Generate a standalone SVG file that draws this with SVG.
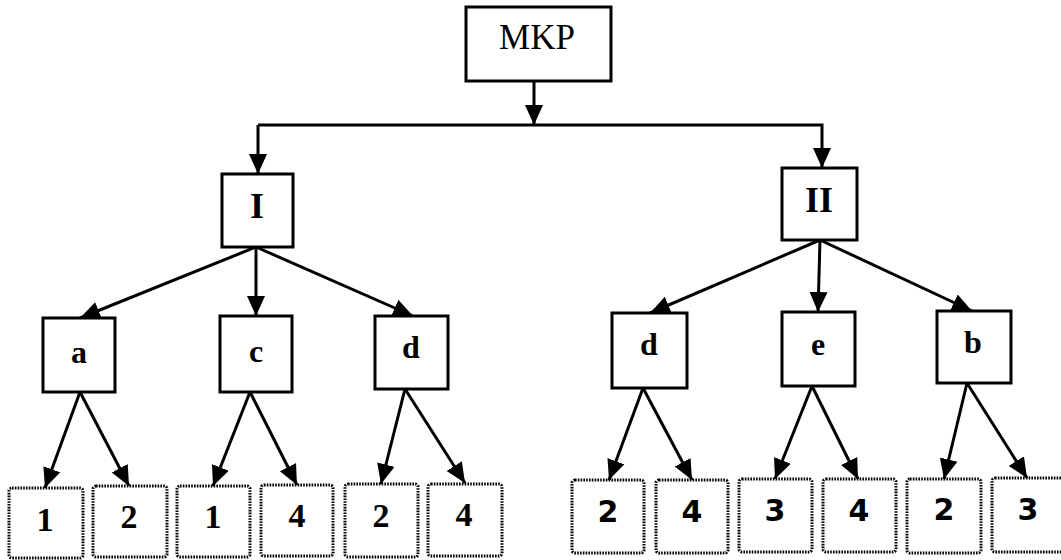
<svg xmlns="http://www.w3.org/2000/svg" width="1061" height="560" viewBox="0 0 1061 560">
<style>
.box{fill:#fff;stroke:#000;stroke-width:3}
.leaf{fill:#fff;stroke:#000;stroke-width:3;stroke-dasharray:1.6 1.2}
.ln{fill:none;stroke:#000;stroke-width:3}
.top{font-family:"Liberation Serif",serif;font-size:35px;text-anchor:middle}
.l1{font-family:"Liberation Serif",serif;font-size:36px;font-weight:bold;text-anchor:middle}
.l2{font-family:"Liberation Serif",serif;font-size:32px;font-weight:bold;text-anchor:middle}
.ls{font-family:"Liberation Serif",serif;font-size:34px;font-weight:bold;text-anchor:middle}
.rs{font-family:"DejaVu Sans",sans-serif;font-size:30px;font-weight:bold;text-anchor:middle}
</style>
<defs>
<marker id="ah" markerUnits="userSpaceOnUse" markerWidth="22" markerHeight="22" refX="20" refY="10" orient="auto">
<path d="M0,1 L20,10 L0,19 z" fill="#000"/>
</marker>
</defs>
<rect width="1061" height="560" fill="#fff"/>
<g id="connectors" class="ln">
<line x1="534" y1="81" x2="534" y2="125" marker-end="url(#ah)"/>
<polyline points="258,125 822,125 822,168" marker-end="url(#ah)"/>
<line x1="258" y1="125" x2="258" y2="174" marker-end="url(#ah)"/>
<line x1="256" y1="247" x2="80" y2="318" marker-end="url(#ah)"/>
<line x1="256" y1="247" x2="256" y2="316" marker-end="url(#ah)"/>
<line x1="256" y1="247" x2="413" y2="316" marker-end="url(#ah)"/>
<line x1="820" y1="240" x2="650" y2="313" marker-end="url(#ah)"/>
<line x1="820" y1="240" x2="818" y2="312" marker-end="url(#ah)"/>
<line x1="820" y1="240" x2="972" y2="311" marker-end="url(#ah)"/>
<line x1="80" y1="392" x2="45" y2="488" marker-end="url(#ah)"/>
<line x1="80" y1="392" x2="129" y2="486" marker-end="url(#ah)"/>
<line x1="250" y1="392" x2="213" y2="486" marker-end="url(#ah)"/>
<line x1="250" y1="392" x2="297" y2="485" marker-end="url(#ah)"/>
<line x1="405" y1="389" x2="381" y2="484" marker-end="url(#ah)"/>
<line x1="405" y1="389" x2="465" y2="483" marker-end="url(#ah)"/>
<line x1="643" y1="388" x2="609" y2="480" marker-end="url(#ah)"/>
<line x1="643" y1="388" x2="692" y2="480" marker-end="url(#ah)"/>
<line x1="812" y1="386" x2="775" y2="479" marker-end="url(#ah)"/>
<line x1="812" y1="386" x2="858" y2="479" marker-end="url(#ah)"/>
<line x1="967" y1="383" x2="944" y2="479" marker-end="url(#ah)"/>
<line x1="967" y1="383" x2="1027" y2="478" marker-end="url(#ah)"/>
</g>
<g id="mkp"><rect class="box" x="466" y="7" width="145" height="74"/><text class="top" x="537" y="49">MKP</text></g>
<g id="n-I"><rect class="box" x="222" y="174" width="71" height="73"/><text class="l1" x="257" y="218">I</text></g>
<g id="n-II"><rect class="box" x="782" y="168" width="75" height="72"/><text class="l1" x="819" y="212">II</text></g>
<g id="n-a"><rect class="box" x="43" y="318" width="72" height="74"/><text class="l2" x="79" y="363">a</text></g>
<g id="n-c"><rect class="box" x="220" y="316" width="72" height="76"/><text class="l2" x="256" y="362">c</text></g>
<g id="n-d1"><rect class="box" x="375" y="316" width="73" height="73"/><text class="l2" x="411" y="358">d</text></g>
<g id="n-d2"><rect class="box" x="612" y="313" width="75" height="75"/><text class="l2" x="649" y="355">d</text></g>
<g id="n-e"><rect class="box" x="782" y="312" width="73" height="74"/><text class="l2" x="818" y="355">e</text></g>
<g id="n-b"><rect class="box" x="937" y="311" width="74" height="72"/><text class="l2" x="973" y="353">b</text></g>
<g id="leaf-1a"><rect class="leaf" x="9" y="488" width="74" height="70" rx="3"/><text class="ls" x="45" y="531">1</text></g>
<g id="leaf-2a"><rect class="leaf" x="93" y="486" width="74" height="71" rx="3"/><text class="ls" x="129" y="528">2</text></g>
<g id="leaf-1c"><rect class="leaf" x="177" y="486" width="73" height="71" rx="3"/><text class="ls" x="213" y="528">1</text></g>
<g id="leaf-4c"><rect class="leaf" x="261" y="485" width="72" height="71" rx="3"/><text class="ls" x="297" y="527">4</text></g>
<g id="leaf-2d"><rect class="leaf" x="345" y="484" width="73" height="73" rx="3"/><text class="ls" x="381" y="527">2</text></g>
<g id="leaf-4d"><rect class="leaf" x="428" y="484" width="74" height="72" rx="3"/><text class="ls" x="464" y="526">4</text></g>
<g id="leaf-2d2"><rect class="leaf" x="572" y="480" width="72" height="73" rx="3"/><text class="rs" x="608" y="522">2</text></g>
<g id="leaf-4d2"><rect class="leaf" x="656" y="480" width="72" height="73" rx="3"/><text class="rs" x="692" y="522">4</text></g>
<g id="leaf-3e"><rect class="leaf" x="739" y="479" width="73" height="73" rx="3"/><text class="rs" x="775" y="521">3</text></g>
<g id="leaf-4e"><rect class="leaf" x="823" y="479" width="73" height="73" rx="3"/><text class="rs" x="859" y="521">4</text></g>
<g id="leaf-2b"><rect class="leaf" x="907" y="479" width="74" height="74" rx="3"/><text class="rs" x="944" y="520">2</text></g>
<g id="leaf-3b"><rect class="leaf" x="992" y="478" width="72" height="74" rx="3"/><text class="rs" x="1028" y="520">3</text></g>
</svg>
